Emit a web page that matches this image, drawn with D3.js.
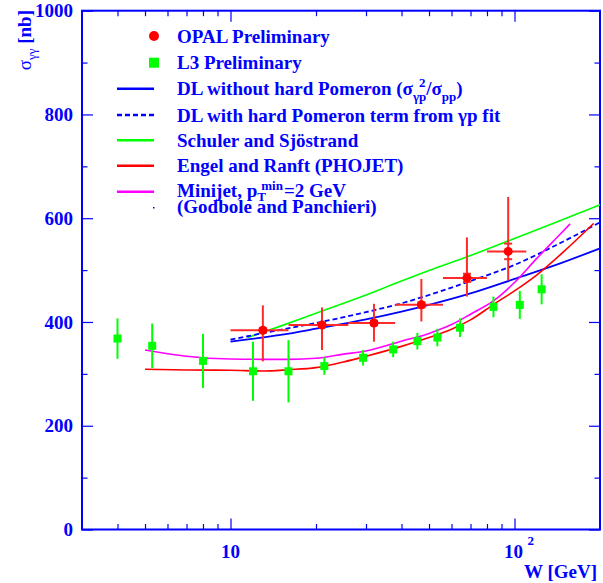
<!DOCTYPE html>
<html>
<head>
<meta charset="utf-8">
<script src="https://cdn.jsdelivr.net/npm/d3@7"></script>
<style>
  html, body { margin: 0; padding: 0; background: #fff; }
  svg { display: block; }
  text { font-family: "Liberation Serif", "Times New Roman", serif; font-weight: bold; fill: #0000ff; }
</style>
</head>
<body>
<svg id="chart" width="603" height="583"></svg>
<script>
// ---- measurements: OPAL (red circles) ----
const opalW       = [13, 21, 32, 47, 68, 95];
const opalWLo     = [10, 16, 26, 38, 56, 80];
const opalWHi     = [16, 26, 38, 56, 80, 110];
const opalSigma   = [384, 394, 398, 433, 485, 536];
const opalErrUp   = [48, 34, 37, 50, 78, 105];
const opalErrDown = [60, 48, 36, 32, 36, 56];
const opalStat    = [4, 4, 4, 5, 8, 15];

// ---- measurements: L3 (green squares) ----
const l3W     = [4.0, 5.3, 8.0, 12.0, 16.0, 21.4, 29.3, 37.4, 45.5, 53.5, 64.3, 84.3, 104.4, 124.6];
const l3Sigma = [368, 354, 325, 305, 305, 315, 331, 347, 363, 370, 389, 429, 433, 463];
const l3Err   = [39, 43, 52, 57, 60, 17, 15, 15, 16, 17, 18, 20, 27, 29];

// ---- model predictions ----
const dlW         = [10, 15, 20, 30, 40, 50, 70, 100, 140, 200];
const dlNoHard    = [362, 375, 387, 405, 420, 433, 455, 483, 510, 542];
const dlWithHard  = [366, 385, 398, 419, 436, 452, 479, 510, 548, 592];
const ssW         = [11.5, 15, 20, 30, 40, 50, 70, 100, 140, 200];
const ssSigma     = [370, 392, 417, 452, 479, 499, 528, 561, 592, 626];
const phojetW     = [5, 7, 10, 13, 16, 20, 25, 30, 40, 50, 60, 70, 85, 100, 120, 150, 190];
const phojetSigma = [309, 307.5, 307, 305.5, 308, 312, 323, 334, 353, 370, 386, 404, 435, 460, 491, 537, 590];
const minijetW     = [5, 7, 10, 13, 16, 20, 25, 30, 40, 50, 60, 70, 85, 100, 120, 140, 157];
const minijetSigma = [346, 334, 328.6, 328, 328, 330, 338, 344, 363, 378, 395, 415, 442, 476, 523, 561, 589];

// ---- axis ticks ----
const xMajor = [10, 100];
const xMinor = [4, 5, 6, 7, 8, 9, 20, 30, 40, 50, 60, 70, 80, 90];
const yMajor = [0, 200, 400, 600, 800, 1000];
const yMinor = [100, 300, 500, 700, 900];

const BLUE = "#0000ff", GREEN = "#00ff00", RED = "#ff0000", MAGENTA = "#ff00ff";

const svg = d3.select("#chart");
const x = d3.scaleLog().domain([3, 200]).range([82, 600]);
const y = d3.scaleLinear().domain([0, 1000]).range([529.5, 10.7]);

// ---- ticks on all four sides, pointing inward ----
function ticks(axis, transform) {
  const g = svg.append("g").attr("transform", transform).call(axis);
  g.select(".domain").remove();
  g.selectAll("text").remove();
  g.selectAll("line").attr("stroke", BLUE).attr("stroke-width", 1.2);
}
ticks(d3.axisBottom(x).tickValues(xMajor).tickSize(-11).tickSizeOuter(0), "translate(0,529.5)");
ticks(d3.axisBottom(x).tickValues(xMinor).tickSize(-5.5).tickSizeOuter(0), "translate(0,529.5)");
ticks(d3.axisTop(x).tickValues(xMajor).tickSize(-11).tickSizeOuter(0), "translate(0,10.7)");
ticks(d3.axisTop(x).tickValues(xMinor).tickSize(-5.5).tickSizeOuter(0), "translate(0,10.7)");
ticks(d3.axisLeft(y).tickValues(yMajor).tickSize(-11).tickSizeOuter(0), "translate(82,0)");
ticks(d3.axisLeft(y).tickValues(yMinor).tickSize(-5.5).tickSizeOuter(0), "translate(82,0)");
ticks(d3.axisRight(y).tickValues(yMajor).tickSize(-11).tickSizeOuter(0), "translate(600,0)");
ticks(d3.axisRight(y).tickValues(yMinor).tickSize(-5.5).tickSizeOuter(0), "translate(600,0)");

// frame
svg.append("rect")
  .attr("x", x.range()[0]).attr("y", y.range()[1])
  .attr("width", x.range()[1] - x.range()[0])
  .attr("height", y.range()[0] - y.range()[1])
  .attr("fill", "none").attr("stroke", BLUE).attr("stroke-width", 2);

// y tick labels
svg.append("g").selectAll("text").data(yMajor).join("text")
  .attr("x", 73).attr("y", d => y(d)).attr("dy", "0.35em")
  .attr("text-anchor", "end").style("font-size", "19px")
  .text(d => d);

// x tick labels: 10 and 10^2
svg.append("text").attr("x", x(10)).attr("y", 558).attr("text-anchor", "middle")
  .style("font-size", "19px").text("10");
svg.append("text").attr("x", x(100) - 1).attr("y", 558).attr("text-anchor", "middle")
  .style("font-size", "19px").text("10");
svg.append("text").attr("x", x(100) + 13).attr("y", 545)
  .style("font-size", "13px").text("2");

// axis titles
svg.append("text").attr("x", 597).attr("y", 578).attr("text-anchor", "end")
  .style("font-size", "19px").text("W [GeV]");
const yt = svg.append("text").attr("transform", "translate(31,10) rotate(-90)")
  .attr("text-anchor", "end").style("font-size", "19px");
yt.append("tspan").style("font-weight", "normal").text("σ");
yt.append("tspan").attr("dy", 5).style("font-size", "13px").style("font-weight", "normal").text("γγ");
yt.append("tspan").attr("dy", -5).text(" [nb]");

// ---- model curves ----
const line = d3.line().x(d => x(d[0])).y(d => y(d[1])).curve(d3.curveMonotoneX);
const zip = (a, b) => a.map((v, i) => [v, b[i]]);
const plot = svg.append("g").attr("fill", "none");
plot.append("path").attr("d", line(zip(ssW, ssSigma))).attr("stroke", GREEN).attr("stroke-width", 1.6);
plot.append("path").attr("d", line(zip(dlW, dlNoHard))).attr("stroke", BLUE).attr("stroke-width", 1.8);
plot.append("path").attr("d", line(zip(dlW, dlWithHard))).attr("stroke", BLUE).attr("stroke-width", 1.8)
  .attr("stroke-dasharray", "5,3");
plot.append("path").attr("d", line(zip(phojetW, phojetSigma))).attr("stroke", RED).attr("stroke-width", 1.6);
plot.append("path").attr("d", line(zip(minijetW, minijetSigma))).attr("stroke", MAGENTA).attr("stroke-width", 1.6);

// ---- L3 points ----
const l3 = l3W.map((w, i) => ({ w, s: l3Sigma[i], e: l3Err[i] }));
const gL3 = svg.append("g");
gL3.selectAll("line").data(l3).join("line")
  .attr("x1", d => x(d.w)).attr("x2", d => x(d.w))
  .attr("y1", d => y(d.s + d.e)).attr("y2", d => y(d.s - d.e))
  .attr("stroke", GREEN).attr("stroke-width", 2);
gL3.selectAll("rect").data(l3).join("rect")
  .attr("x", d => x(d.w) - 4).attr("y", d => y(d.s) - 4)
  .attr("width", 8).attr("height", 8).attr("fill", GREEN);

// ---- OPAL points ----
const opal = opalW.map((w, i) => ({
  w, lo: opalWLo[i], hi: opalWHi[i], s: opalSigma[i],
  up: opalErrUp[i], dn: opalErrDown[i], st: opalStat[i]
}));
const gO = svg.append("g").attr("stroke", "#ff2a2a").attr("stroke-width", 2);
gO.selectAll("line.h").data(opal).join("line").attr("class", "h")
  .attr("x1", d => x(d.lo)).attr("x2", d => x(d.hi))
  .attr("y1", d => y(d.s)).attr("y2", d => y(d.s));
gO.selectAll("line.v").data(opal).join("line").attr("class", "v")
  .attr("x1", d => x(d.w)).attr("x2", d => x(d.w))
  .attr("y1", d => y(d.s + d.up)).attr("y2", d => y(d.s - d.dn));
gO.selectAll("line.cu").data(opal).join("line").attr("class", "cu")
  .attr("x1", d => x(d.w) - 4).attr("x2", d => x(d.w) + 4)
  .attr("y1", d => y(d.s + d.st)).attr("y2", d => y(d.s + d.st));
gO.selectAll("line.cd").data(opal).join("line").attr("class", "cd")
  .attr("x1", d => x(d.w) - 4).attr("x2", d => x(d.w) + 4)
  .attr("y1", d => y(d.s - d.st)).attr("y2", d => y(d.s - d.st));
svg.append("g").selectAll("circle").data(opal).join("circle")
  .attr("cx", d => x(d.w)).attr("cy", d => y(d.s)).attr("r", 4.5).attr("fill", RED);

// ---- legend ----
const leg = svg.append("g");
const lx0 = 117, lx1 = 154, tx = 177;
const rows = [36, 62.7, 88.7, 115, 140.3, 165.8, 191.7];

function rich(x0, yBase, parts) {
  let cx = x0, lastStart = x0;
  parts.forEach(p => {
    const start = (p.stack ? lastStart : cx) + (p.dx || 0);
    const t = leg.append("text").attr("x", start).attr("y", yBase + (p.dy || 0))
      .style("font-size", (p.size || 19) + "px").text(p.t);
    if (p.normal) t.style("font-weight", "normal");
    const w = t.node().getComputedTextLength();
    if (!p.stack) { lastStart = start; cx = start + w; }
    else { cx = Math.max(cx, start + w); }
  });
}

leg.append("circle").attr("cx", 154).attr("cy", rows[0]).attr("r", 5).attr("fill", RED);
rich(tx, rows[0] + 6.5, [{ t: "OPAL Preliminary" }]);

leg.append("rect").attr("x", 149).attr("y", rows[1] - 5).attr("width", 10).attr("height", 10).attr("fill", GREEN);
rich(tx, rows[1] + 6.5, [{ t: "L3 Preliminary" }]);

leg.append("line").attr("x1", lx0).attr("x2", lx1).attr("y1", rows[2]).attr("y2", rows[2])
  .attr("stroke", BLUE).attr("stroke-width", 2.5);
rich(tx, rows[2] + 6.5, [
  { t: "DL without hard Pomeron (σ" },
  { t: "γp", size: 13, dy: 6 },
  { t: "2", size: 13, dy: -8, dx: 6, stack: true },
  { t: " /σ" },
  { t: "pp", size: 13, dy: 6 },
  { t: ")" }
]);

leg.append("line").attr("x1", lx0).attr("x2", lx1).attr("y1", rows[3]).attr("y2", rows[3])
  .attr("stroke", BLUE).attr("stroke-width", 2.5).attr("stroke-dasharray", "5,3");
rich(tx, rows[3] + 6.5, [{ t: "DL with hard Pomeron term from γp fit" }]);

leg.append("line").attr("x1", lx0).attr("x2", lx1).attr("y1", rows[4]).attr("y2", rows[4])
  .attr("stroke", GREEN).attr("stroke-width", 2.5);
rich(tx, rows[4] + 6.5, [{ t: "Schuler and Sjöstrand" }]);

leg.append("line").attr("x1", lx0).attr("x2", lx1).attr("y1", rows[5]).attr("y2", rows[5])
  .attr("stroke", RED).attr("stroke-width", 2.5);
rich(tx, rows[5] + 6.5, [{ t: "Engel and Ranft (PHOJET)" }]);

leg.append("line").attr("x1", lx0).attr("x2", lx1).attr("y1", rows[6]).attr("y2", rows[6])
  .attr("stroke", MAGENTA).attr("stroke-width", 2.5);
rich(tx, rows[6] + 5.5, [
  { t: "Minijet, p" },
  { t: "T", size: 13, dy: 4 },
  { t: "min", size: 13, dy: -7, stack: true, dx: 4 },
  { t: "=2 GeV", dx: 1 }
]);
rich(tx, rows[6] + 21.5, [{ t: "(Godbole and Panchieri)" }]);
leg.append("rect").attr("x", 153).attr("y", 207).attr("width", 1.5).attr("height", 1.5).attr("fill", BLUE);
</script>
</body>
</html>
